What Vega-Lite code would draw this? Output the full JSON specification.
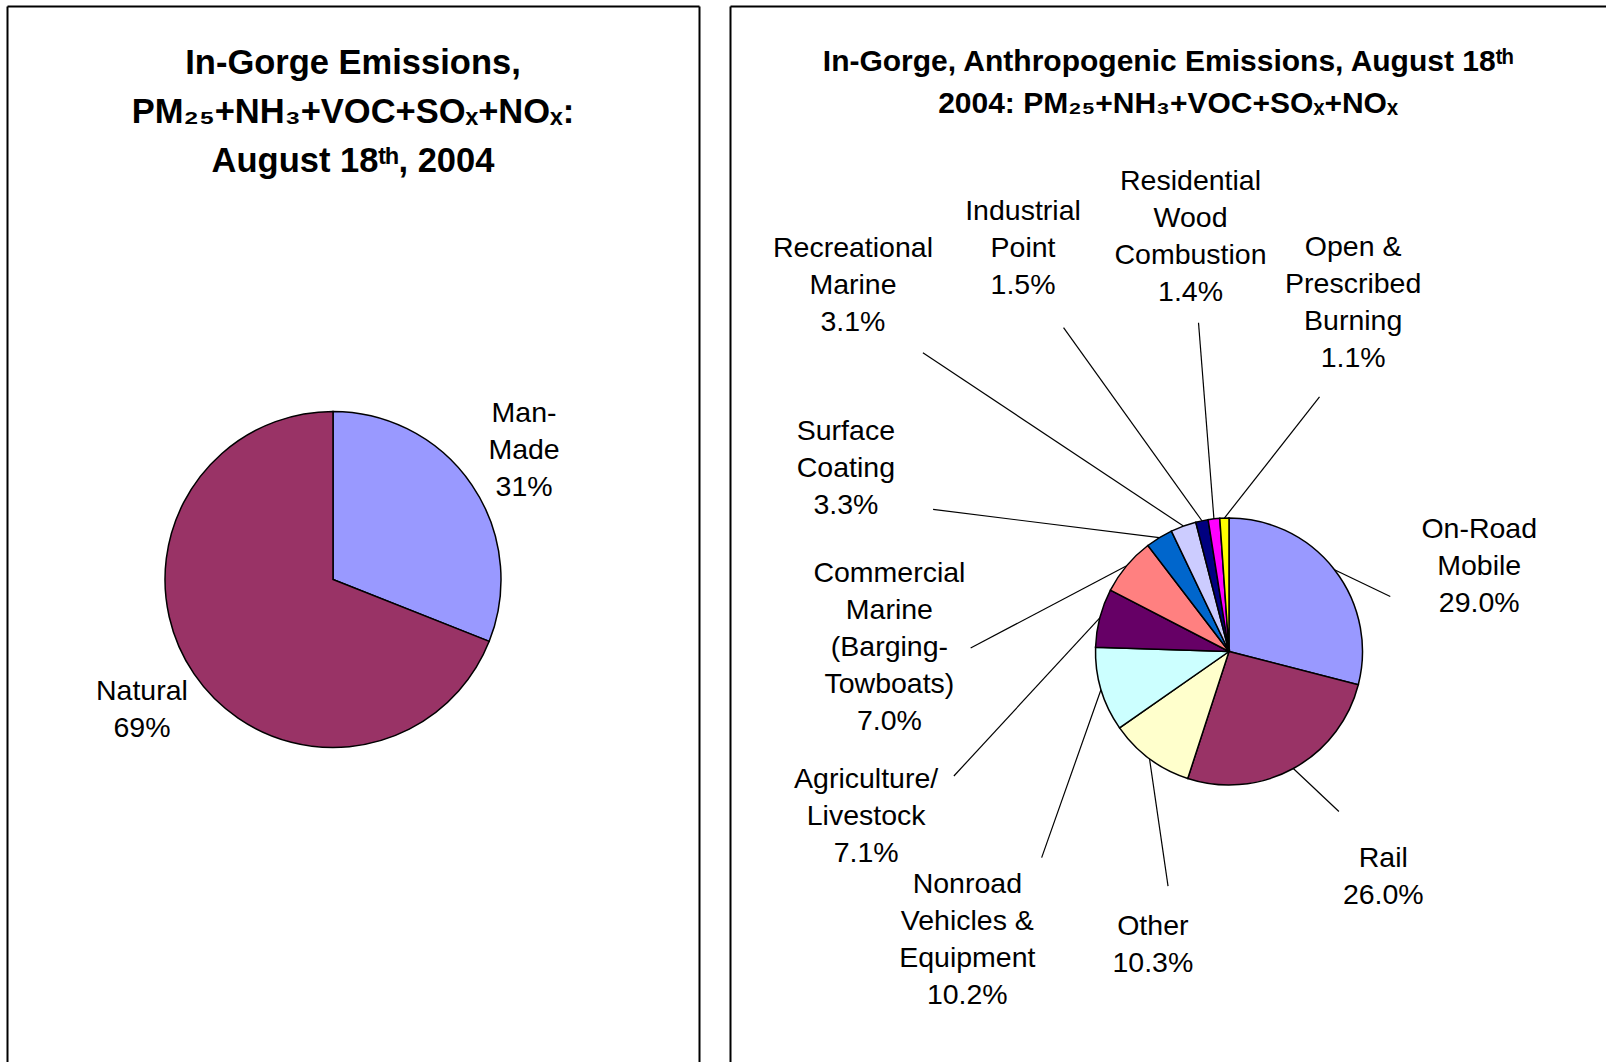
{
  "$schema": "https://vega.github.io/schema/vega-lite/v6.json",
  "padding": {"left": 7, "top": 6, "right": 0, "bottom": 0},
  "spacing": 31,
  "background": "white",
  "config": {
    "font": "Liberation Sans",
    "view": {"stroke": null},
    "axis": {"domain": true, "domainColor": "#000000", "domainWidth": 2, "ticks": false, "labels": false, "grid": false, "title": null, "minExtent": 0}
  },
  "resolve": {"scale": {"color": "independent", "theta": "independent", "x": "independent", "y": "independent"}},
  "hconcat": [
    {
      "width": 692,
      "height": 1056,
      "title": {
        "text": ["In-Gorge Emissions,", "PM₂₅+NH₃+VOC+SOₓ+NOₓ:", "August 18ᵗʰ, 2004"],
        "fontSize": 34.5, "fontWeight": "bold", "lineHeight": 49, "anchor": "middle", "frame": "group",
        "baseline": "alphabetic", "offset": -200, "color": "#000000"
      },
      "data": {"values": [
        {"label": "Man-\nMade", "share": 31},
        {"label": "Natural", "share": 69}
      ]},
      "transform": [
        {"calculate": "length(split(datum.label, '\\n')) + 1", "as": "nl"},
        {"window": [{"op": "row_number", "as": "idx"}, {"op": "sum", "field": "share", "as": "cum"}], "frame": [null, 0]},
        {"joinaggregate": [{"op": "sum", "field": "share", "as": "tot"}]},
        {"calculate": "(datum.cum - datum.share/2)/datum.tot*2*PI", "as": "b"},
        {"calculate": "231*sin(datum.b)", "as": "lx"},
        {"calculate": "-231*cos(datum.b) - (datum.nl - 1)*18.5", "as": "ly"},
        {"calculate": "datum.label + '\\n' + format(datum.share, '.0f') + '%'", "as": "txt"}
      ],
      "resolve": {"scale": {"y": "independent"}, "axis": {"y": "independent"}},
      "layer": [
        {
          "mark": {"type": "arc", "outerRadius": 168, "stroke": "#000000", "strokeWidth": 1.5},
          "encoding": {
            "theta": {"field": "share", "type": "quantitative", "stack": true},
            "order": {"field": "idx", "type": "quantitative"},
            "color": {"field": "label", "type": "nominal", "scale": {"domain": ["Man-\nMade", "Natural"], "range": ["#9999FF", "#993366"]}, "legend": null},
            "x": {"datum": 0, "type": "quantitative", "scale": {"domain": [-326, 366], "nice": false, "zero": false}, "axis": {"orient": "top"}},
            "y": {"datum": 0, "type": "quantitative", "scale": {"domain": [-573.5, 482.5], "nice": false, "zero": false, "reverse": true}, "axis": {"orient": "left"}}
          }
        },
        {
          "mark": {"type": "text", "fontSize": 28.5, "lineHeight": 37, "lineBreak": "\n", "align": "center", "baseline": "middle", "color": "#000000"},
          "encoding": {
            "x": {"field": "lx", "type": "quantitative", "scale": {"domain": [-326, 366], "nice": false, "zero": false}, "axis": {"orient": "top"}},
            "y": {"field": "ly", "type": "quantitative", "scale": {"domain": [-573.5, 482.5], "nice": false, "zero": false, "reverse": true}, "axis": {"orient": "right"}},
            "text": {"field": "txt"}
          }
        }
      ]
    },
    {
      "width": 876,
      "height": 1056,
      "title": {
        "text": ["In-Gorge, Anthropogenic Emissions, August 18ᵗʰ", "2004: PM₂₅+NH₃+VOC+SOₓ+NOₓ"],
        "fontSize": 30, "fontWeight": "bold", "lineHeight": 42, "anchor": "middle", "frame": "group",
        "baseline": "alphabetic", "offset": -137, "color": "#000000"
      },
      "data": {"values": [
        {"label": "On-Road\nMobile", "share": 29.0},
        {"label": "Rail", "share": 26.0},
        {"label": "Other", "share": 10.3},
        {"label": "Nonroad\nVehicles &\nEquipment", "share": 10.2},
        {"label": "Agriculture/\nLivestock", "share": 7.1},
        {"label": "Commercial\nMarine\n(Barging-\nTowboats)", "share": 7.0},
        {"label": "Surface\nCoating", "share": 3.3},
        {"label": "Recreational\nMarine", "share": 3.1},
        {"label": "Industrial\nPoint", "share": 1.5},
        {"label": "Residential\nWood\nCombustion", "share": 1.4},
        {"label": "Open &\nPrescribed\nBurning", "share": 1.1}
      ]},
      "transform": [
        {"calculate": "length(split(datum.label, '\\n')) + 1", "as": "nl"},
        {"calculate": "max(datum.share, 2.3*datum.nl)", "as": "w"},
        {"window": [{"op": "row_number", "as": "idx"}, {"op": "sum", "field": "share", "as": "cum"}, {"op": "sum", "field": "w", "as": "cumw"}], "frame": [null, 0]},
        {"joinaggregate": [{"op": "sum", "field": "share", "as": "tot"}, {"op": "sum", "field": "w", "as": "totw"}]},
        {"calculate": "((datum.cumw - datum.w/2)/datum.totw*360 + 32)*PI/180", "as": "a"},
        {"calculate": "(datum.cum - datum.share/2)/datum.tot*2*PI", "as": "b"},
        {"calculate": "sin(datum.a)", "as": "sa"},
        {"calculate": "cos(datum.a)", "as": "ca"},
        {"calculate": "74*abs(datum.sa) + 18.5*datum.nl*abs(datum.ca)", "as": "ext"},
        {"calculate": "8000*pow(max(0, -datum.sa)*max(0, datum.ca), 6) + (datum.sa < 0 ? 130*datum.sa*datum.sa*max(0, -datum.ca) : 0) - 220*max(0, datum.sa)*pow(max(0, datum.ca), 2)", "as": "extra"},
        {"calculate": "133.5 + 60 + 170*exp(-datum.share/8) + datum.extra + datum.ext", "as": "R"},
        {"calculate": "datum.R*datum.sa", "as": "lx"},
        {"calculate": "-datum.R*datum.ca - (datum.nl - 1)*18.5", "as": "ly"},
        {"calculate": "(datum.R - datum.ext - 6)*datum.sa", "as": "ex"},
        {"calculate": "-(datum.R - datum.ext - 6)*datum.ca", "as": "ey"},
        {"calculate": "133.5*sin(datum.b)", "as": "sx"},
        {"calculate": "-133.5*cos(datum.b)", "as": "sy"},
        {"calculate": "datum.label + '\\n' + format(datum.share, '.1f') + '%'", "as": "txt"}
      ],
      "layer": [
        {
          "mark": {"type": "rule", "stroke": "#000000", "strokeWidth": 1.2},
          "encoding": {
            "x": {"field": "sx", "type": "quantitative", "scale": {"domain": [-499, 377], "nice": false, "zero": false}, "axis": {"orient": "top"}},
            "y": {"field": "sy", "type": "quantitative", "scale": {"domain": [-645.5, 410.5], "nice": false, "zero": false, "reverse": true}, "axis": {"orient": "left"}},
            "x2": {"field": "ex"},
            "y2": {"field": "ey"}
          }
        },
        {
          "mark": {"type": "arc", "outerRadius": 133.5, "stroke": "#000000", "strokeWidth": 1.5},
          "encoding": {
            "theta": {"field": "share", "type": "quantitative", "stack": true},
            "order": {"field": "idx", "type": "quantitative"},
            "color": {"field": "label", "type": "nominal", "legend": null, "scale": {
              "domain": ["On-Road\nMobile", "Rail", "Other", "Nonroad\nVehicles &\nEquipment", "Agriculture/\nLivestock", "Commercial\nMarine\n(Barging-\nTowboats)", "Surface\nCoating", "Recreational\nMarine", "Industrial\nPoint", "Residential\nWood\nCombustion", "Open &\nPrescribed\nBurning"],
              "range": ["#9999FF", "#993366", "#FFFFCC", "#CCFFFF", "#660066", "#FF8080", "#0066CC", "#CCCCFF", "#000080", "#FF00FF", "#FFFF00"]}},
            "x": {"datum": 0, "type": "quantitative", "scale": {"domain": [-499, 377], "nice": false, "zero": false}, "axis": {"orient": "top"}},
            "y": {"datum": 0, "type": "quantitative", "scale": {"domain": [-645.5, 410.5], "nice": false, "zero": false, "reverse": true}, "axis": {"orient": "left"}}
          }
        },
        {
          "mark": {"type": "text", "fontSize": 28.5, "lineHeight": 37, "lineBreak": "\n", "align": "center", "baseline": "middle", "color": "#000000"},
          "encoding": {
            "x": {"field": "lx", "type": "quantitative", "scale": {"domain": [-499, 377], "nice": false, "zero": false}, "axis": {"orient": "top"}},
            "y": {"field": "ly", "type": "quantitative", "scale": {"domain": [-645.5, 410.5], "nice": false, "zero": false, "reverse": true}, "axis": {"orient": "left"}},
            "text": {"field": "txt"}
          }
        }
      ]
    }
  ]
}
